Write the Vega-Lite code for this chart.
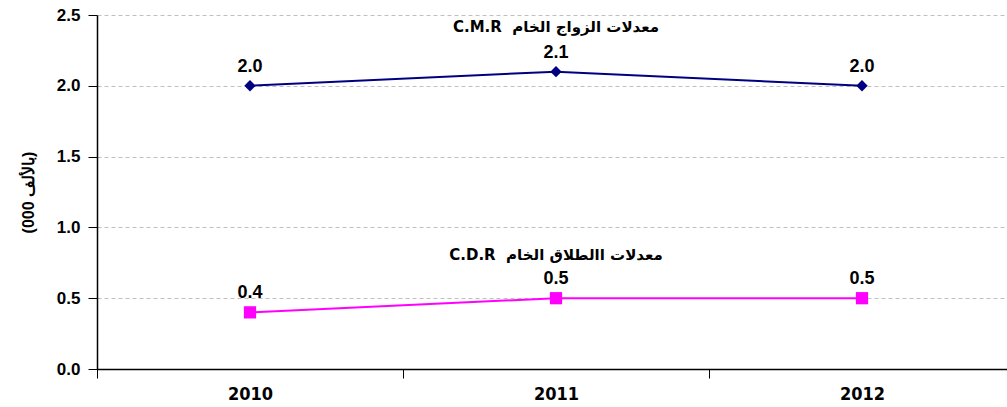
{
  "$schema": "https://vega.github.io/schema/vega-lite/v6.json",
  "autosize": {"type": "none"},
  "padding": {"left": 97, "top": 15, "right": 0, "bottom": 38},
  "width": 918,
  "height": 354,
  "background": "white",
  "config": {"view": {"stroke": null}, "font": "Liberation Sans"},
  "datasets": {
    "pts": [
      {"year": "2010", "series": "CMR", "value": 2.0, "label": "2.0"},
      {"year": "2011", "series": "CMR", "value": 2.1, "label": "2.1"},
      {"year": "2012", "series": "CMR", "value": 2.0, "label": "2.0"},
      {"year": "2010", "series": "CDR", "value": 0.4, "label": "0.4"},
      {"year": "2011", "series": "CDR", "value": 0.5, "label": "0.5"},
      {"year": "2012", "series": "CDR", "value": 0.5, "label": "0.5"}
    ],
    "names": [
      {"year": "2011", "series": "CMR", "value": 2.415, "name": "C.M.R\u00a0\u00a0معدلات الزواج الخام"},
      {"year": "2011", "series": "CDR", "value": 0.805, "name": "C.D.R\u00a0\u00a0معدلات االطلاق الخام"}
    ]
  },
  "encoding": {
    "x": {
      "field": "year", "type": "ordinal",
      "scale": {"paddingInner": 0, "paddingOuter": 0},
      "axis": {
        "title": null, "labelAngle": 0, "tickBand": "extent", "domainColor": "black", "domainWidth": 1.5,
        "tickColor": "black", "tickSize": 9, "labelFont": "DejaVu Sans Condensed, Liberation Sans, sans-serif", "labelFontSize": 18,
        "labelFontWeight": "bold", "labelColor": "black", "labelPadding": 7, "grid": false
      }
    },
    "y": {
      "field": "value", "type": "quantitative",
      "scale": {"domain": [0, 2.5], "nice": false},
      "axis": {
        "title": "(000 بالألف)", "titleFontSize": 16, "titleFontWeight": "bold", "titleColor": "black",
        "titlePadding": 20, "values": [0, 0.5, 1, 1.5, 2, 2.5], "format": ".1f",
        "labelFontSize": 17, "labelFontWeight": "bold", "labelColor": "black", "labelPadding": 8,
        "domainColor": "black", "domainWidth": 1.5, "tickColor": "black", "tickSize": 9,
        "grid": true, "gridColor": "#c0c0c0", "gridDash": [4, 3], "gridWidth": 1
      }
    }
  },
  "layer": [
    {
      "data": {"name": "pts"},
      "mark": {"type": "line", "strokeWidth": 2},
      "encoding": {
        "color": {"field": "series", "type": "nominal", "scale": {"domain": ["CMR", "CDR"], "range": ["#000080", "#ff00ff"]}, "legend": null}
      }
    },
    {
      "data": {"name": "pts"},
      "mark": {"type": "point", "filled": true, "opacity": 1},
      "encoding": {
        "color": {"field": "series", "type": "nominal", "scale": {"domain": ["CMR", "CDR"], "range": ["#000080", "#ff00ff"]}, "legend": null},
        "shape": {"field": "series", "type": "nominal", "scale": {"domain": ["CMR", "CDR"], "range": ["diamond", "square"]}, "legend": null},
        "size": {"field": "series", "type": "nominal", "scale": {"domain": ["CMR", "CDR"], "range": [130, 150]}, "legend": null}
      }
    },
    {
      "data": {"name": "pts"},
      "mark": {"type": "text", "dy": -19, "fontSize": 18, "fontWeight": "bold", "color": "black"},
      "encoding": {"text": {"field": "label"}}
    },
    {
      "data": {"name": "names"},
      "mark": {"type": "text", "font": "DejaVu Sans", "fontSize": 15, "fontWeight": "bold", "color": "black"},
      "encoding": {"text": {"field": "name"}}
    }
  ]
}
